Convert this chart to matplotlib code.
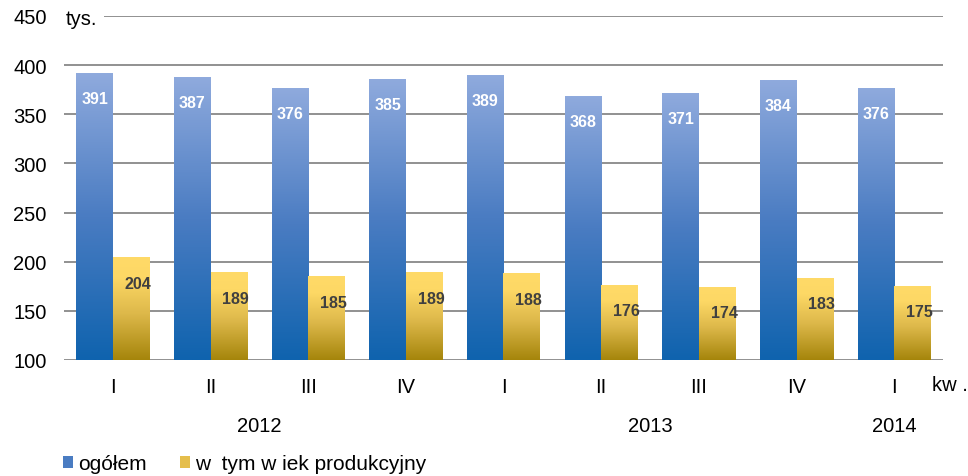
import matplotlib

matplotlib.use("Agg")
import matplotlib.pyplot as plt
import numpy as np
from matplotlib.colors import LinearSegmentedColormap
from matplotlib.patches import Patch
from matplotlib.transforms import blended_transform_factory

plt.rcParams["font.family"] = ["Liberation Sans", "DejaVu Sans"]

quarters = ["I", "II", "III", "IV", "I", "II", "III", "IV", "I"]
years = ["2012", "2013", "2014"]
year_groups = [(0, 3), (4, 7), (8, 8)]
ogolem = [391, 387, 376, 385, 389, 368, 371, 384, 376]
produkcyjny = [204, 189, 185, 189, 188, 176, 174, 183, 175]

blue_cmap = LinearSegmentedColormap.from_list("blue", ["#0F63AE", "#4A7CC2", "#8FAADD"])
gold_cmap = LinearSegmentedColormap.from_list(
    "gold", [(0.0, "#A5850B"), (0.45, "#DDB84A"), (0.8, "#FDD865"), (1.0, "#FFDA68")]
)

fig = plt.figure(figsize=(9.68, 4.77), dpi=100)
ax = fig.add_axes([64 / 968, 1 - 361 / 477, 879 / 968, 344 / 477])

x = np.arange(len(quarters))
w = 0.375
bars_b = ax.bar(x - w / 2, np.array(ogolem) - 100, w, bottom=100, color="none", zorder=2)
bars_y = ax.bar(x + w / 2, np.array(produkcyjny) - 100, w, bottom=100, color="none", zorder=2)

grad = np.linspace(0, 1, 256).reshape(-1, 1)


def fill_gradient(bars, cmap):
    for b in bars:
        x0, y0 = b.get_x(), b.get_y()
        ax.imshow(grad, cmap=cmap, origin="lower", aspect="auto",
                  extent=[x0, x0 + b.get_width(), y0, y0 + b.get_height()], zorder=3)


fill_gradient(bars_b, blue_cmap)
fill_gradient(bars_y, gold_cmap)

for b, v in zip(bars_b, ogolem):
    ax.text(b.get_x() + b.get_width() / 2, v - 25, str(v), ha="center", va="center",
            color="white", fontsize=11.5, fontweight="bold", zorder=5)
for b, v in zip(bars_y, produkcyjny):
    ax.text(b.get_x() + b.get_width() / 2 + 0.07, v - 26, str(v), ha="center", va="center",
            color="#404040", fontsize=11.5, fontweight="bold", zorder=5)

ax.set_xlim(-0.5, len(quarters) - 0.5)
ax.set_ylim(100, 450)
ax.set_yticks(np.arange(100, 451, 50))
ax.yaxis.grid(True, color="#888888", linewidth=1.3)
ax.set_axisbelow(True)
for s in ax.spines.values():
    s.set_visible(False)
ax.tick_params(axis="y", length=0, pad=12.5, labelsize=14.5)
ax.tick_params(axis="x", length=0, pad=12, labelsize=14.5)
ax.set_xticks(x)
ax.set_xticklabels(quarters)

ax.text(0.002, 447, "tys.", ha="left", va="center", fontsize=14.5,
        transform=blended_transform_factory(ax.transAxes, ax.transData),
        bbox=dict(facecolor="white", edgecolor="none", pad=5), zorder=6)

trans = blended_transform_factory(ax.transData, ax.transAxes)
ax.text(0.9875, -0.07, "kw .", ha="left", va="center", fontsize=14.5, transform=ax.transAxes)
for label, (a, b) in zip(years, year_groups):
    ax.text((a + b) / 2, -0.19, label, ha="center", va="center", fontsize=14.5, transform=trans)

handles = [Patch(facecolor="#4A7CC2"), Patch(facecolor="#E5BE4C")]
fig.legend(handles, ["ogółem", "w  tym w iek produkcyjny"], loc="center left",
           bbox_to_anchor=(63 / 968, 12 / 477), ncol=2, frameon=False, fontsize=15,
           handlelength=0.48, handleheight=0.48, handletextpad=0.25, columnspacing=1.6,
           borderaxespad=0, borderpad=0)

fig.savefig("out.png", dpi=100)
plt.close(fig)
